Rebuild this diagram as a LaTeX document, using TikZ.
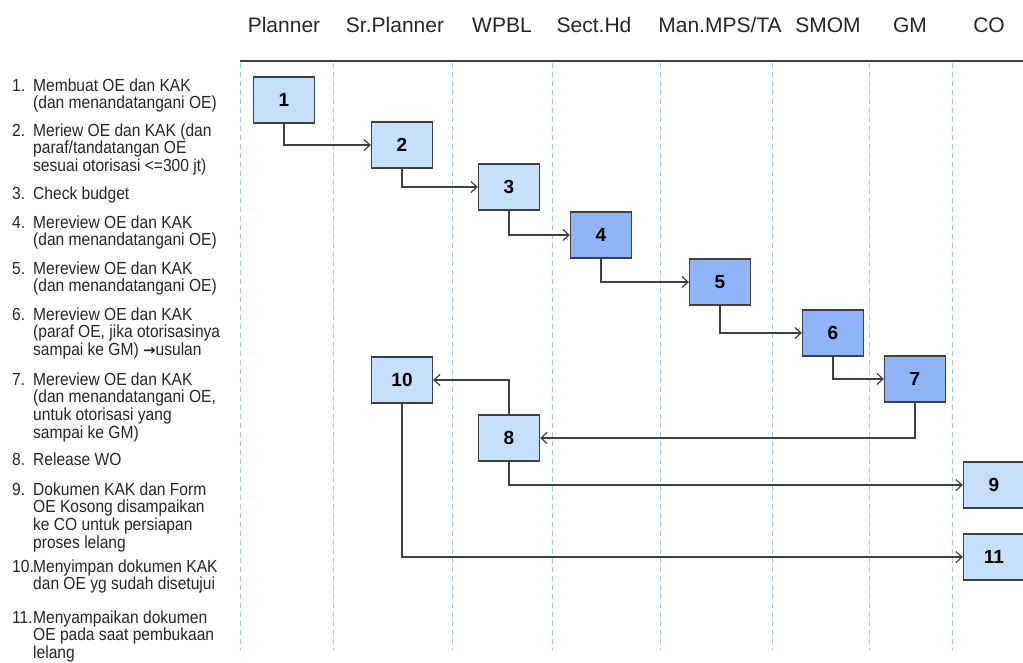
\documentclass[tikz,border=0pt]{standalone}
\usepackage{fontspec}
\setmainfont{Liberation Sans}
\newfontfamily\listfont[FakeStretch=0.89]{Liberation Sans}
\newfontfamily\arrowfont{DejaVu Sans}
\usepackage{tikz}
\usetikzlibrary{arrows.meta}

\definecolor{lightbox}{HTML}{C6DFFA}
\definecolor{darkbox}{HTML}{8FB4F8}
\definecolor{edgecol}{HTML}{404040}
\definecolor{lanecol}{HTML}{9DC9F2}
\definecolor{txtcol}{HTML}{262626}

% lines of one list item, baseline on the first line
\newcommand{\itemlines}[1]{\begin{tabular}[t]{@{}l@{}}#1\end{tabular}}
\newcommand{\toarrow}{{\arrowfont\bfseries\fontsize{15}{17.7}\selectfont →}}

\tikzset{
    stepbox/.style = {draw=edgecol, line width=1.3pt, fill=lightbox,
        minimum width=61pt, minimum height=46pt, inner sep=0pt,
        font=\fontsize{19}{19}\selectfont\bfseries, text=black},
    keybox/.style = {stepbox, fill=darkbox},
    flow/.style = {draw=edgecol, line width=1.2pt,
        -{Straight Barb[length=6pt,width=11pt]}},
    lane/.style = {draw=lanecol, line width=1pt, dash pattern=on 5pt off 4pt},
    role/.style = {font=\fontsize{21}{21}\selectfont, text=txtcol, anchor=base},
    itemnum/.style = {font=\listfont\fontsize{17.5}{17.7}\selectfont, text=txtcol,
        anchor=base west, inner sep=0pt},
    itemtxt/.style = {itemnum}
}

\begin{document}
\begin{tikzpicture}[x=1pt, y=-1pt]
    \useasboundingbox (0,0) rectangle (1023,662);

    % swim lanes
    \foreach \x in {240,333,452,552,660,772,869,952}
        \draw[lane] (\x,63) -- (\x,650);
    \draw[edgecol, line width=1.5pt] (240,61) -- (1023,61);

    % roles
    \node[role] (rPlanner) at (284,32) {Planner};
    \node[role] (rSrPlanner) at (395,32) {Sr.Planner};
    \node[role] (rWPBL) at (502,32) {WPBL};
    \node[role] (rSectHd) at (594,32) {Sect.Hd};
    \node[role] (rManMPS) at (720,32) {Man.MPS/TA};
    \node[role] (rSMOM) at (828,32) {SMOM};
    \node[role] (rGM) at (910,32) {GM};
    \node[role] (rCO) at (989,32) {CO};

    % steps list
    \node[itemnum] (n1) at (12,91) {1.};
    \node[itemtxt] (t1) at (33,91) {\itemlines{Membuat OE dan KAK\\(dan menandatangani OE)}};
    \node[itemnum] (n2) at (12,136) {2.};
    \node[itemtxt] (t2) at (33,136) {\itemlines{Meriew OE dan KAK (dan\\paraf/tandatangan OE\\sesuai otorisasi <=300 jt)}};
    \node[itemnum] (n3) at (12,199) {3.};
    \node[itemtxt] (t3) at (33,199) {Check budget};
    \node[itemnum] (n4) at (12,228) {4.};
    \node[itemtxt] (t4) at (33,228) {\itemlines{Mereview OE dan KAK\\(dan menandatangani OE)}};
    \node[itemnum] (n5) at (12,274) {5.};
    \node[itemtxt] (t5) at (33,274) {\itemlines{Mereview OE dan KAK\\(dan menandatangani OE)}};
    \node[itemnum] (n6) at (12,320) {6.};
    \node[itemtxt] (t6) at (33,320) {\itemlines{Mereview OE dan KAK\\(paraf OE, jika otorisasinya\\sampai ke GM) \toarrow usulan}};
    \node[itemnum] (n7) at (12,385) {7.};
    \node[itemtxt] (t7) at (33,385) {\itemlines{Mereview OE dan KAK\\(dan menandatangani OE,\\untuk otorisasi yang\\sampai ke GM)}};
    \node[itemnum] (n8) at (12,465) {8.};
    \node[itemtxt] (t8) at (33,465) {Release WO};
    \node[itemnum] (n9) at (12,495) {9.};
    \node[itemtxt] (t9) at (33,495) {\itemlines{Dokumen KAK dan Form\\OE Kosong disampaikan\\ke CO untuk persiapan\\proses lelang}};
    \node[itemnum] (n10) at (12,572) {10.};
    \node[itemtxt] (t10) at (33,572) {\itemlines{Menyimpan dokumen KAK\\dan OE yg sudah disetujui}};
    \node[itemnum] (n11) at (12,623) {11.};
    \node[itemtxt] (t11) at (33,623) {\itemlines{Menyampaikan dokumen\\OE pada saat pembukaan\\lelang}};

    % boxes
    \node[stepbox] (b1) at (284,100) {1};
    \node[stepbox] (b2) at (402,145) {2};
    \node[stepbox] (b3) at (509,187) {3};
    \node[keybox] (b4) at (601,235) {4};
    \node[keybox] (b5) at (720,282) {5};
    \node[keybox] (b6) at (833,333) {6};
    \node[keybox] (b7) at (915,379) {7};
    \node[stepbox] (b8) at (509,438) {8};
    \node[stepbox] (b9) at (994,485) {9};
    \node[stepbox] (b10) at (402,380) {10};
    \node[stepbox] (b11) at (994,557) {11};

    % flow
    \draw[flow] (b1.south) |- (b2.west);
    \draw[flow] (b2.south) |- (b3.west);
    \draw[flow] (b3.south) |- (b4.west);
    \draw[flow] (b4.south) |- (b5.west);
    \draw[flow] (b5.south) |- (b6.west);
    \draw[flow] (b6.south) |- (b7.west);
    \draw[flow] (b7.south) |- (b8.east);
    \draw[flow] (b8.north) |- (b10.east);
    \draw[flow] (b8.south) |- (b9.west);
    \draw[flow] (b10.south) |- (b11.west);
\end{tikzpicture}
\end{document}
